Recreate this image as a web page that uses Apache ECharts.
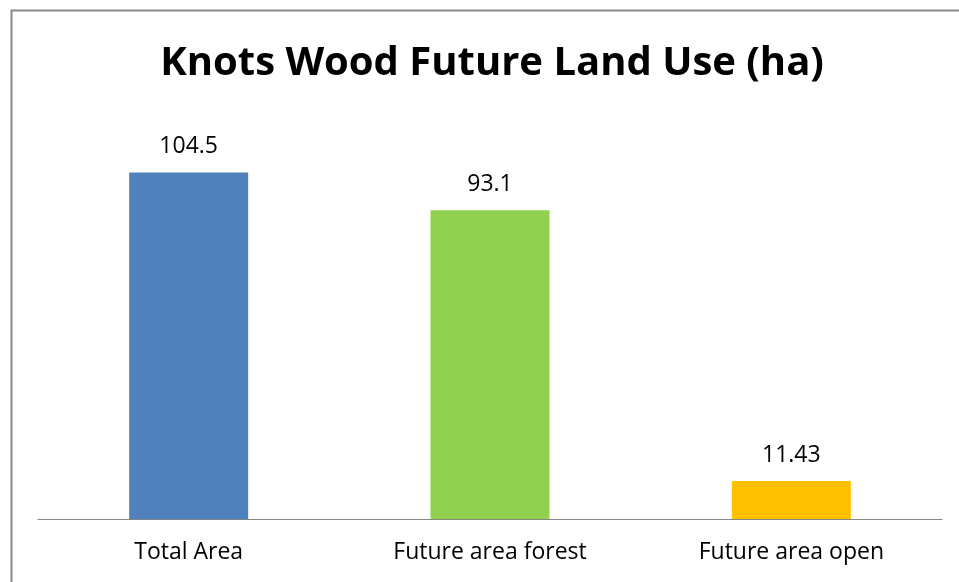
<!DOCTYPE html>
<html><head><meta charset="utf-8">
<script src="https://cdn.jsdelivr.net/npm/echarts@6/dist/echarts.min.js"></script>
<style>html,body{margin:0;padding:0;background:#fff}#c{width:959px;height:582px}</style>
</head><body><div id="c"></div>
<script>
const categories = ['Total Area', 'Future area forest', 'Future area open'];
const values = [104.5, 93.1, 11.43];
const labels = ['104.5', '93.1', '11.43'];
const colors = ['#4F81BD', '#92D050', '#FFC000'];

const chart = echarts.init(document.getElementById('c'));
chart.setOption({
  animation: false,
  backgroundColor: '#ffffff',
  graphic: [{
    type: 'rect', left: 9, top: 8,
    shape: { x: 0, y: 0, width: 1000, height: 1000 },
    style: { fill: 'none', stroke: '#888888', lineWidth: 2 }
  }],
  title: {
    text: 'Knots Wood Future Land Use (ha)',
    left: 487, top: 39, textAlign: 'center',
    textStyle: { fontFamily: 'Open Sans', fontWeight: 'bold', fontSize: 40, color: '#000' }
  },
  grid: { left: 38, right: 17, top: 121, bottom: 63, containLabel: false },
  xAxis: {
    type: 'category', data: categories,
    axisLine: { lineStyle: { color: '#868686', width: 1 } },
    axisTick: { show: false },
    axisLabel: { fontFamily: 'Open Sans', fontSize: 23, color: '#000', margin: 22 }
  },
  yAxis: {
    type: 'value', min: 0, max: 120, show: false,
    splitLine: { show: false }
  },
  series: [{
    type: 'bar', barWidth: '39.5%',
    data: values.map((v, i) => ({ value: v, itemStyle: { color: colors[i] } })),
    label: {
      show: true, position: 'top', distance: 14,
      formatter: p => labels[p.dataIndex],
      fontFamily: 'Open Sans', fontSize: 23, color: '#000'
    }
  }]
});
</script></body></html>
